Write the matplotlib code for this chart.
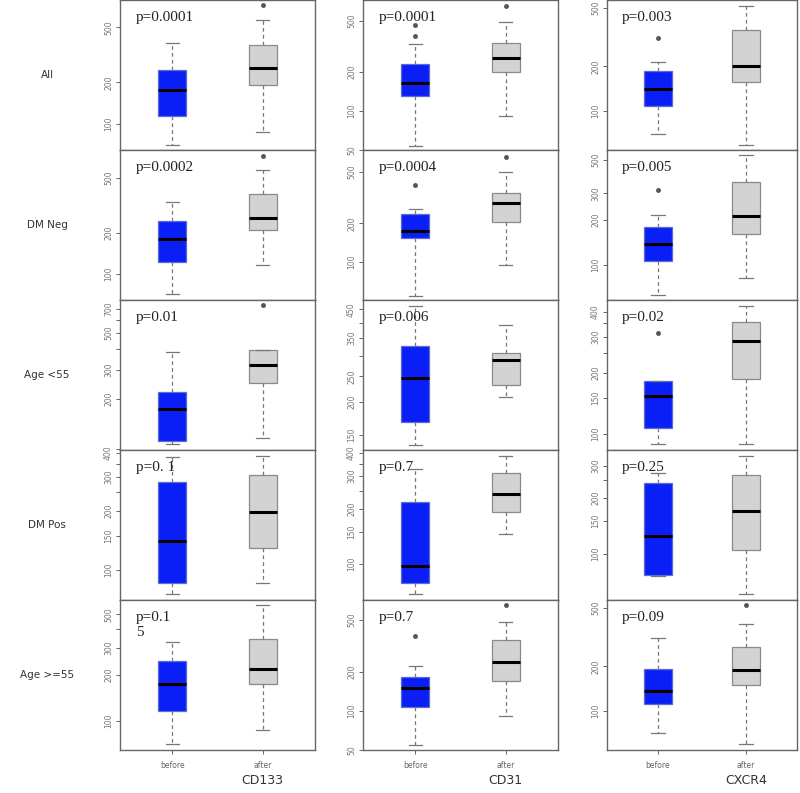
import matplotlib
matplotlib.use("Agg")
from matplotlib import pyplot as plt
from matplotlib.ticker import FixedLocator, NullLocator

rows = ["All", "DM Neg", "Age <55", "DM Pos", "Age >=55"]
markers = ["CD133", "CD31", "CXCR4"]

# whisker low, Q1, median, Q3, whisker high  (one entry per row)
cd133_before = [[70, 113, 176, 244, 384], [71, 122, 179, 244, 334], [107, 111, 175, 221, 384],
                [75, 86, 141, 282, 381], [70, 115, 174, 246, 328]]
cd133_after = [[87, 190, 253, 373, 571], [116, 208, 257, 384, 571], [116, 251, 321, 395, 395],
               [86, 130, 199, 305, 385], [87, 174, 218, 343, 577]]
cd31_before = [[54, 131, 166, 230, 329], [55, 153, 174, 235, 258], [137, 167, 247, 326, 465],
               [69, 79, 98, 216, 326], [55, 107, 151, 181, 221]]
cd31_after = [[91, 202, 258, 336, 487], [95, 204, 287, 343, 499], [209, 232, 290, 308, 392],
              [145, 191, 239, 312, 386], [91, 169, 238, 351, 481]]
cxcr4_before = [[70, 108, 140, 185, 214], [63, 106, 138, 179, 215], [89, 107, 153, 182, 182],
                [76, 77, 125, 241, 273], [70, 111, 137, 191, 311]]
cxcr4_after = [[59, 158, 200, 351, 514], [81, 161, 212, 358, 541], [89, 187, 286, 355, 429],
               [60, 105, 171, 267, 340], [59, 150, 189, 270, 387]]

# outliers
cd133_before_out = [[], [], [], [], []]
cd133_after_out = [[727], [729], [736], [], []]
cd31_before_out = [[384, 464], [395], [], [], [379]]
cd31_after_out = [[651], [651], [], [], [654]]
cxcr4_before_out = [[312], [316], [315], [], []]
cxcr4_after_out = [[], [], [], [], [524]]

pvals = [["p=0.0001", "p=0.0001", "p=0.003"],
         ["p=0.0002", "p=0.0004", "p=0.005"],
         ["p=0.01", "p=0.006", "p=0.02"],
         ["p=0. 1", "p=0.7", "p=0.25"],
         ["p=0.1\n5", "p=0.7", "p=0.09"]]

ylims = [[(64.5, 791), (50, 725), (54.5, 562)],
         [(64.5, 803), (51, 738), (58, 584)],
         [(98.6, 789), (131, 489), (83, 457)],
         [(70, 412), (64, 415), (56, 365)],
         [(64, 622), (50, 715), (54, 566)]]

yticks = [[[100, 200, 500], [50, 100, 200, 500], [100, 200, 500]],
          [[100, 200, 500], [50, 100, 200, 500], [100, 200, 300, 500]],
          [[100, 200, 300, 400, 500, 600, 700], [150, 200, 250, 300, 350, 400, 450, 500],
           [100, 150, 200, 250, 300, 350, 400]],
          [[100, 150, 200, 250, 300, 350, 400, 450], [100, 150, 200, 250, 300, 350, 400],
           [100, 150, 200, 250, 300]],
          [[100, 200, 300, 400, 500], [50, 100, 200, 500], [100, 200, 500]]]
ylabeled = [[[100, 200, 500], [50, 100, 200, 500], [100, 200, 500]],
            [[100, 200, 500], [50, 100, 200, 500], [100, 200, 300, 500]],
            [[200, 300, 500, 700], [150, 200, 250, 350, 450], [100, 150, 200, 300, 400]],
            [[100, 150, 200, 300, 400], [100, 150, 200, 300, 400], [100, 150, 200, 300]],
            [[100, 200, 300, 500], [50, 100, 200, 500], [100, 200, 500]]]

before = [cd133_before, cd31_before, cxcr4_before]
after = [cd133_after, cd31_after, cxcr4_after]
before_out = [cd133_before_out, cd31_before_out, cxcr4_before_out]
after_out = [cd133_after_out, cd31_after_out, cxcr4_after_out]

W, H = 800, 793
col_left = [120, 363, 607]
col_right = [315, 558, 797]
row_top = [0, 150, 300, 450, 600]

fig = plt.figure(figsize=(W / 100, H / 100), dpi=100)


def stats(v, out):
    return dict(whislo=v[0], q1=v[1], med=v[2], q3=v[3], whishi=v[4], fliers=out)


for r in range(5):
    for c in range(3):
        x0, x1 = col_left[c], col_right[c]
        y0 = row_top[r]
        ax = fig.add_axes([x0 / W, 1 - (y0 + 150) / H, (x1 - x0) / W, 150 / H])
        ax.set_yscale("log")
        bs = [stats(before[c][r], before_out[c][r]), stats(after[c][r], after_out[c][r])]
        b = ax.bxp(bs, positions=[1, 2], widths=0.31, capwidths=0.15, patch_artist=True,
                   whiskerprops=dict(color="#777777", linestyle=(0, (3, 2.5)), lw=0.9),
                   capprops=dict(color="#777777", lw=0.9),
                   medianprops=dict(color="black", lw=2.2),
                   flierprops=dict(marker="o", markersize=2.5, markerfacecolor="#555555",
                                   markeredgecolor="#555555"))
        b["boxes"][0].set_facecolor("#0a1ff5")
        b["boxes"][0].set_edgecolor("#5a6bd8")
        b["boxes"][1].set_facecolor("#d3d3d3")
        b["boxes"][1].set_edgecolor("#8a8a8a")
        for bx in b["boxes"]:
            bx.set_linewidth(0.9)
        ax.set_xlim(0.42, 2.58)
        ax.set_ylim(*ylims[r][c])
        ax.yaxis.set_major_locator(FixedLocator(yticks[r][c]))
        ax.yaxis.set_minor_locator(NullLocator())
        ax.set_yticklabels([str(t) if t in ylabeled[r][c] else "" for t in yticks[r][c]],
                           rotation=90, va="center", fontsize=5.5, color="#777777")
        ax.tick_params(axis="both", length=3, width=0.7, color="#666666", pad=2)
        ax.set_xticks([1, 2])
        if r == 4:
            ax.set_xticklabels(["before", "after"], fontsize=5.5, color="#666666")
            ax.tick_params(axis="x", pad=5)
        else:
            ax.set_xticklabels(["", ""])
        for s in ax.spines.values():
            s.set_color("#666666")
            s.set_linewidth(1.0)
        ax.text(0.08, 0.93, pvals[r][c], transform=ax.transAxes, va="top", ha="left",
                fontsize=11, family="Liberation Serif", color="#222222", linespacing=1.2)

for r, name in enumerate(rows):
    fig.text(47 / W, 1 - (row_top[r] + 75) / H, name, ha="center", va="center",
             fontsize=7.5, color="#333333")

for c, name in enumerate(markers):
    xc = col_left[c] + (col_right[c] - col_left[c]) * 0.731
    fig.text(xc / W, 1 - 781 / H, name, ha="center", va="center", fontsize=9,
             color="#333333")

fig.savefig("out.png", dpi=100)
